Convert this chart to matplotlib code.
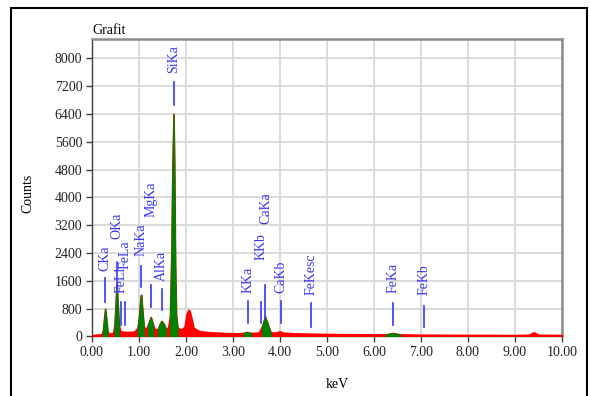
import matplotlib
matplotlib.use("Agg")
import matplotlib.pyplot as plt
from matplotlib.patches import Rectangle

plt.rcParams['font.family'] = ['Liberation Serif', 'DejaVu Serif']

# spectrum (keV, counts)
energy = [0.00, 0.02, 0.10, 0.20, 0.23, 0.26, 0.28, 0.30, 0.33, 0.36,
          0.45, 0.48, 0.51, 0.525, 0.54, 0.57, 0.60, 0.65, 0.70, 0.80,
          0.90, 0.97, 1.00, 1.03, 1.045, 1.06, 1.10, 1.14, 1.19, 1.25,
          1.30, 1.34, 1.40, 1.44, 1.48, 1.53, 1.57, 1.62, 1.66, 1.69,
          1.71, 1.735, 1.75, 1.77, 1.79, 1.82, 1.90, 1.97, 2.01, 2.05,
          2.08, 2.12, 2.16, 2.22, 2.30, 2.50, 2.80, 3.10, 3.22, 3.30,
          3.38, 3.55, 3.62, 3.68, 3.74, 3.80, 3.90, 4.00, 4.06, 4.30,
          5.00, 6.00, 6.25, 6.40, 6.55, 7.00, 8.00, 9.00, 9.30, 9.40,
          9.50, 10.00]
counts = [0, 40, 55, 60, 150, 550, 800, 550, 150, 80,
          100, 350, 1150, 1500, 1150, 350, 160, 140, 130, 130,
          140, 250, 550, 1100, 1200, 950, 300, 180, 330, 560,
          330, 200, 220, 350, 450, 350, 230, 250, 600, 2500,
          4800, 6400, 5000, 2000, 600, 250, 200, 280, 620, 770,
          720, 500, 250, 200, 150, 120, 100, 90, 100, 130,
          100, 110, 300, 580, 350, 120, 110, 150, 110, 90,
          70, 60, 60, 100, 60, 50, 45, 40, 50, 120,
          50, 40]

# identified peak windows drawn in green
green_lo = [0.22, 0.46, 0.96, 1.16, 1.40, 1.63, 3.20, 3.58, 6.25]
green_hi = [0.34, 0.58, 1.12, 1.33, 1.57, 1.83, 3.42, 3.82, 6.55]

# peak labels: name, keV, marker line bottom/top, text bottom (counts)
peak_names = ['CKa', 'OKa', 'FeLl', 'FeLa', 'NaKa', 'MgKa', 'AlKa', 'SiKa',
              'KKa', 'KKb', 'CaKa', 'CaKb', 'FeKesc', 'FeKa', 'FeKb']
peak_kev = [0.277, 0.525, 0.615, 0.705, 1.041, 1.254, 1.486, 1.739,
            3.312, 3.589, 3.690, 4.012, 4.660, 6.398, 7.057]
line_lo = [980, 1325, 320, 320, 1410, 835, 750, 6650,
           375, 375, 545, 375, 260, 320, 260]
line_hi = [1670, 2130, 980, 980, 2040, 1470, 1380, 7310,
           1035, 980, 1470, 1035, 950, 950, 890]
text_lo = [1870, 2800, 1240, 1950, 2330, 3425, 1610, 7570,
           1265, 2190, 3250, 1265, 1180, 1240, 1180]

fig = plt.figure(figsize=(5.9, 3.96), dpi=100)
ax = fig.add_axes([0.1559, 0.1503, 0.7966, 0.7512])

ax.fill_between(energy, counts, color='#ff0000', lw=1.2, edgecolor='#ff0000', zorder=3)
for lo, hi in zip(green_lo, green_hi):
    xs = [e for e in energy if lo <= e <= hi]
    ys = [c for e, c in zip(energy, counts) if lo <= e <= hi]
    ax.fill_between(xs, ys, color='#008000', lw=0.8, edgecolor='#008000', zorder=4)

lab_col = '#3636f0'
for name, e, l0, l1, t0 in zip(peak_names, peak_kev, line_lo, line_hi, text_lo):
    ax.plot([e, e], [l0, l1], color=lab_col, lw=1.2, zorder=5)
    ax.text(e, t0, name, rotation=90, ha='center', va='bottom', color=lab_col,
            fontsize=10, zorder=5)

ax.set_xlim(0, 10)
ax.set_ylim(0, 8560)
ax.set_xticks([i for i in range(11)])
ax.set_xticklabels(['%.2f' % i for i in range(11)])
ax.set_yticks([i * 800 for i in range(11)])
ax.grid(True, color='#d8d8d8', lw=1.3, zorder=0)
ax.set_axisbelow(True)
ax.tick_params(axis='both', direction='out', length=4, width=1, color='#404040',
               labelsize=10, labelcolor='#222222', pad=3)

for side in ['left', 'bottom']:
    ax.spines[side].set_color('#404040')
    ax.spines[side].set_linewidth(1)
for side in ['top', 'right']:
    ax.spines[side].set_color('#8c8c8c')
    ax.spines[side].set_linewidth(1.8)

fig.text(92 / 590, 1 - 30 / 396, 'Grafit', fontsize=10, ha='left', va='center')
fig.text(28 / 590, 1 - 193 / 396, 'Counts', fontsize=10, rotation=90,
         ha='center', va='center')
fig.text(337 / 590, 1 - 384 / 396, 'keV', fontsize=10, ha='center', va='center')

fig.patches.append(Rectangle((11 / 590, -0.1), 576 / 590, 1.1 - 8 / 396,
                             transform=fig.transFigure, fill=False,
                             edgecolor='black', lw=1.5))

fig.savefig('out.png', dpi=100)
